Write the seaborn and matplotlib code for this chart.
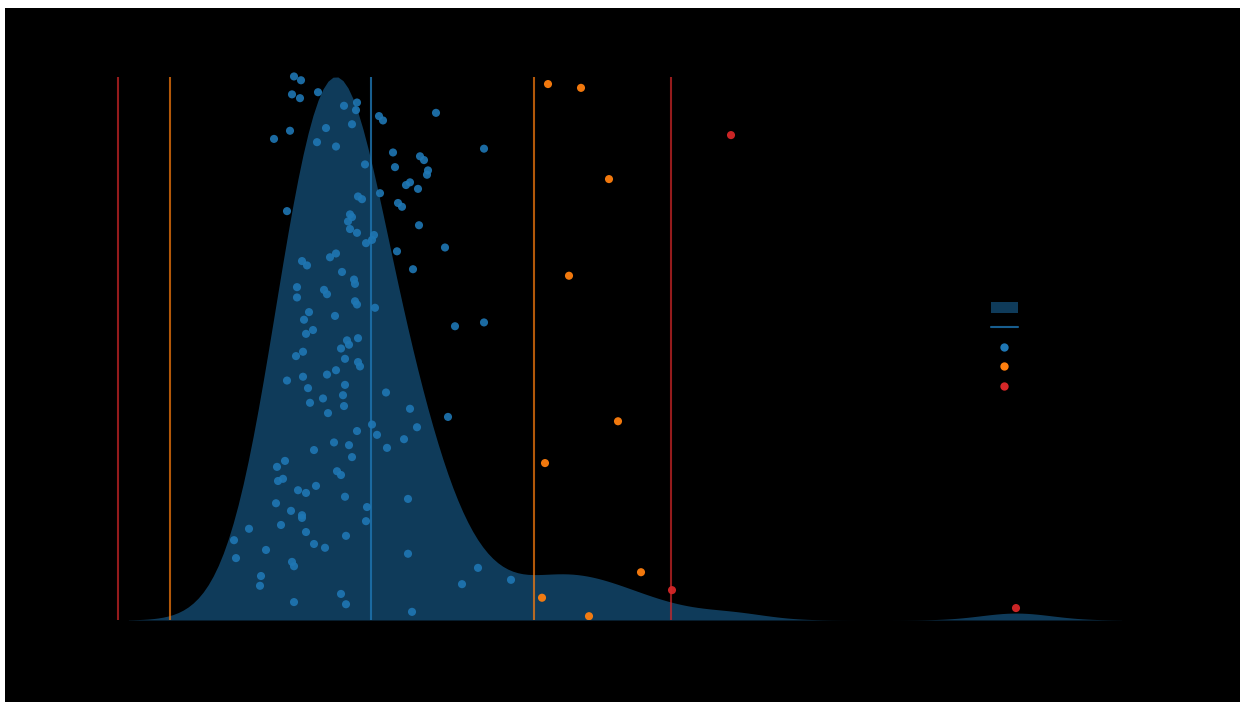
import matplotlib
matplotlib.use("Agg")
import matplotlib.pyplot as plt
from matplotlib.patches import Rectangle, Patch
from matplotlib.lines import Line2D
from matplotlib.ticker import FormatStrFormatter, MaxNLocator
import numpy as np
import seaborn as sns

# Observed values (one per sample)
values = [
    29.4, 30.1, 29.2, 30.0, 31.8, 34.4, 35.7, 35.6, 35.2, 32.6, 29.0, 27.4, 31.7, 33.6,
    37.9, 38.3, 43.6, 48.4, 39.3, 42.0, 42.4, 39.5, 42.8, 42.7, 36.5, 41.0, 40.6, 41.8,
    38.0, 35.8, 36.2, 39.8, 40.2, 28.7, 35.0, 35.2, 34.8, 41.9, 35.0, 35.7, 37.4, 37.2,
    36.6, 44.5, 39.7, 33.6, 33.0,
    30.2, 30.7, 41.3, 34.2, 35.4, 35.5, 29.7, 32.4, 32.7, 29.7, 35.5, 35.7, 37.5, 30.9,
    33.5, 30.4, 45.5, 48.4, 31.3, 30.6, 35.8, 34.7, 34.9, 34.1, 30.3, 29.6, 34.5, 35.8,
    36.0, 33.6, 32.7, 30.3, 28.7, 34.5, 30.8, 38.6, 34.3, 32.3, 31.0, 34.4, 41.0, 32.8,
    44.8, 37.2, 41.7, 35.7, 37.7, 40.4, 33.4, 34.9, 38.7, 31.4,
    35.2, 28.5, 27.7, 33.7, 34.1, 27.8, 28.3, 31.6, 29.8, 30.6, 34.5, 40.8, 27.6, 36.7,
    29.1, 30.2, 30.2, 36.6, 28.1, 24.9, 30.6, 34.6, 23.4, 31.4, 32.5, 26.6, 40.8, 23.6,
    29.2, 29.4, 26.1, 47.8, 26.0, 46.2, 51.1, 34.1, 34.6, 29.4, 41.2,
    54.8, 58.1, 60.9, 56.9, 61.8, 54.5, 64.1, 54.2, 58.9,
    73.1, 67.2, 101.6,
]

# Vertical jitter of each sample, in percent of the density peak
jitter = [
    100.1, 99.4, 96.8, 96.1, 97.2, 94.7, 95.3, 93.9, 91.3, 90.6, 90.1, 88.6, 88.0, 87.2,
    92.8, 92.0, 93.4, 86.8, 86.1, 85.4, 84.7, 83.4, 82.8, 82.0, 83.9, 80.6, 80.1, 79.4,
    78.6, 78.0, 77.5, 76.8, 76.1, 75.3, 74.7, 74.2, 73.4, 72.7, 72.0, 71.3, 70.9, 70.0,
    69.4, 68.6, 67.9, 67.5, 66.8,
    66.1, 65.3, 64.6, 64.1, 62.7, 61.9, 61.3, 60.8, 60.0, 59.4, 58.7, 58.1, 57.5, 56.7,
    56.0, 55.3, 54.1, 54.8, 53.4, 52.7, 51.9, 51.5, 50.7, 50.0, 49.4, 48.6, 48.1, 47.5,
    46.7, 46.0, 45.2, 44.8, 44.1, 43.3, 42.7, 41.9, 41.4, 40.8, 40.0, 39.4, 38.9, 38.1,
    37.4, 36.0, 35.5, 34.8, 34.1, 33.3, 32.7, 32.2, 31.7, 31.3,
    30.0, 29.3, 28.2, 27.4, 26.7, 25.6, 26.0, 24.7, 23.9, 23.4, 22.7, 22.3, 21.5, 20.8,
    20.1, 19.3, 18.8, 18.2, 17.5, 16.8, 16.2, 15.5, 14.7, 14.0, 13.3, 12.9, 12.2, 11.4,
    10.7, 9.9, 8.1, 9.6, 6.3, 6.6, 7.4, 4.8, 2.9, 3.3, 1.5,
    98.7, 98.0, 81.2, 63.4, 36.6, 28.9, 8.8, 4.1, 0.7,
    89.3, 5.5, 2.2,
]

# Reference lines: center and the inner / outer outlier fences
center = 37.1
inner_fences = [17.0, 53.4]
outer_fences = [11.8, 67.1]

legend_labels = ["Density (KDE)", "Mean", "Typical", "Mild outlier", "Extreme outlier"]

BLUE = "#1f77b4"
ORANGE = "#ff7f0e"
RED = "#d62728"

sns.set_theme(style="dark", rc={
    "axes.facecolor": "black",
    "figure.facecolor": "white",
    "axes.edgecolor": "black",
    "text.color": "black",
    "axes.labelcolor": "black",
    "xtick.color": "black",
    "ytick.color": "black",
    "axes.grid": False,
})
plt.rcParams["font.family"] = ["DejaVu Sans"]

W, H = 1240, 702
fig = plt.figure(figsize=(W / 100, H / 100), dpi=100)
# dark canvas inset into a thin light frame
fig.patches.append(Rectangle((5 / W, 0), 1 - 5 / W, 1 - 8 / H, transform=fig.transFigure,
                             facecolor="black", edgecolor="none", zorder=-5))

ax = fig.add_axes([70 / W, (H - 620) / H, 1065 / W, 570 / H])

sns.kdeplot(x=values, fill=True, color=BLUE, alpha=0.5, linewidth=0, bw_adjust=0.95,
            ax=ax, zorder=1)
curve = ax.collections[0].get_paths()[0].vertices
peak = curve[:, 1].max()

vals = np.asarray(values)
ys = np.asarray(jitter) / 100.0 * peak

ax.vlines(outer_fences, 0, peak, colors=RED, linewidth=1.5, alpha=0.7, zorder=2)
ax.vlines(inner_fences, 0, peak, colors=ORANGE, linewidth=1.5, alpha=0.7, zorder=2)
ax.vlines([center], 0, peak, colors=BLUE, linewidth=1.5, alpha=0.8, zorder=2)

typical = (vals >= inner_fences[0]) & (vals <= inner_fences[1])
extreme = (vals < outer_fences[0]) | (vals > outer_fences[1])
mild = ~typical & ~extreme

ax.scatter(vals[typical], ys[typical], s=34, color=BLUE, alpha=0.9, edgecolor="none", zorder=3)
ax.scatter(vals[mild], ys[mild], s=34, color=ORANGE, alpha=0.95, edgecolor="none", zorder=3)
ax.scatter(vals[extreme], ys[extreme], s=34, color=RED, alpha=0.95, edgecolor="none", zorder=3)

ax.set_xlim(7.0, 113.5)
ax.set_ylim(0, peak * 570 / 543)
for s in ax.spines.values():
    s.set_visible(False)
ax.tick_params(labelsize=9)
ax.yaxis.set_major_locator(MaxNLocator(4))
ax.yaxis.set_major_formatter(FormatStrFormatter("%.2f"))

ax.set_title("Distribution of measurements with outlier fences", color="black")
ax.set_xlabel("Value", color="black")
ax.set_ylabel("Density", color="black", fontsize=11)
ax.yaxis.set_label_coords(-0.038, 0.5)

handles = [
    Patch(facecolor=BLUE, alpha=0.5, edgecolor="none"),
    Line2D([], [], color=BLUE, linewidth=1.5, alpha=0.8),
    Line2D([], [], marker="o", linestyle="none", color=BLUE, markersize=6, markeredgewidth=0),
    Line2D([], [], marker="o", linestyle="none", color=ORANGE, markersize=6, markeredgewidth=0),
    Line2D([], [], marker="o", linestyle="none", color=RED, markersize=6, markeredgewidth=0),
]
leg = ax.legend(handles, legend_labels, loc="upper left", fontsize=9.5,
                bbox_to_anchor=(986 / W, (H - 297) / H), bbox_transform=fig.transFigure,
                borderaxespad=0, frameon=False, handlelength=2.0, handleheight=0.85)
for t in leg.get_texts():
    t.set_color("black")

fig.savefig("out.png", dpi=100, facecolor=fig.get_facecolor())
